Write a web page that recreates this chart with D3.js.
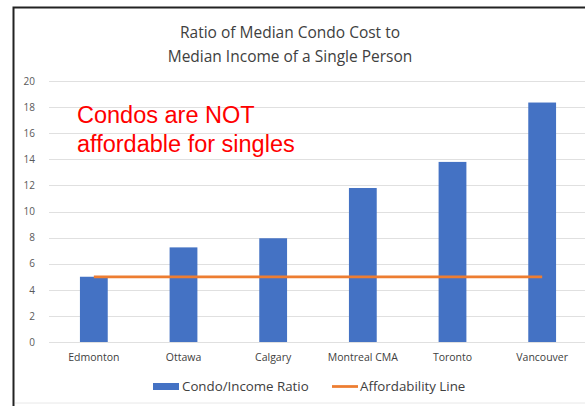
<!DOCTYPE html>
<html>
<head>
<meta charset="utf-8">
<script src="https://cdn.jsdelivr.net/npm/d3@7"></script>
<style>
  body { margin: 0; background: #fff; }
  text { font-family: "Open Sans", "Liberation Sans", sans-serif; }
</style>
</head>
<body>
<div id="chart"></div>
<script>
var svgWidth = 585;
var svgHeight = 406;

var leftMargin = 49;
var rightMargin = -2;
var topMargin = 81;
var bottomMargin = 64;

var chartWidth = svgWidth - leftMargin - rightMargin;
var chartHeight = svgHeight - topMargin - bottomMargin;

var cities = ['Edmonton', 'Ottawa', 'Calgary', 'Montreal CMA', 'Toronto', 'Vancouver'];
var ratios = [5.0, 7.25, 7.95, 11.8, 13.8, 18.35];
var affordability = [5, 5, 5, 5, 5, 5];
var yTicks = [0, 2, 4, 6, 8, 10, 12, 14, 16, 18, 20];
var titleLines = ['Ratio of Median Condo Cost to', 'Median Income of a Single Person'];
var noteLines = ['Condos are NOT', 'affordable for singles'];

var barColor = '#4472c4';
var lineColor = '#ed7d31';

var svg = d3.select('#chart')
    .append('svg')
    .attr('width', svgWidth)
    .attr('height', svgHeight);

// chart frame (screenshot is cropped: only top and left visible)
svg.append('path')
    .attr('d', 'M13.5,406 V7.5 H585')
    .attr('fill', 'none')
    .attr('stroke', '#222')
    .attr('stroke-width', 2);
svg.append('line')
    .attr('x1', 15).attr('x2', 585)
    .attr('y1', 403).attr('y2', 403)
    .attr('stroke', '#e8e8e8');

var chart = svg.append('g')
    .attr('transform', `translate(${leftMargin}, ${topMargin})`);

var xScale = d3.scaleBand()
    .domain(cities)
    .range([0, chartWidth])
    .paddingInner(0.69)
    .paddingOuter(0.345);

var yScale = d3.scaleLinear()
    .domain([0, 20])
    .range([chartHeight, 0]);

// gridlines
chart.append('g')
    .selectAll('line')
    .data(yTicks)
    .enter()
    .append('line')
    .attr('x1', 0)
    .attr('x2', chartWidth)
    .attr('y1', d => Math.round(yScale(d)) + 0.5)
    .attr('y2', d => Math.round(yScale(d)) + 0.5)
    .attr('stroke', '#e0e0e0')
    .attr('stroke-width', 1);

var yAxis = d3.axisLeft(yScale).tickValues(yTicks).tickSize(0).tickPadding(14);
var yG = chart.append('g').call(yAxis);
yG.select('.domain').remove();
yG.selectAll('text')
    .attr('fill', '#595959')
    .attr('font-size', 10);

var xAxis = d3.axisBottom(xScale).tickSize(0).tickPadding(12);
var xG = chart.append('g')
    .attr('transform', `translate(0, ${chartHeight})`)
    .call(xAxis);
xG.select('.domain').remove();
xG.selectAll('text')
    .attr('fill', '#404040')
    .attr('font-size', 10.5);

// bars
chart.selectAll('rect.bar')
    .data(ratios)
    .enter()
    .append('rect')
    .attr('class', 'bar')
    .attr('x', (d, i) => xScale(cities[i]))
    .attr('y', d => yScale(d))
    .attr('width', xScale.bandwidth())
    .attr('height', d => chartHeight - yScale(d))
    .attr('fill', barColor);

// affordability line
var line = d3.line()
    .x((d, i) => xScale(cities[i]) + xScale.bandwidth() / 2)
    .y(d => yScale(d));

chart.append('path')
    .datum(affordability)
    .attr('d', line)
    .attr('fill', 'none')
    .attr('stroke', lineColor)
    .attr('stroke-width', 2.75);

// title
svg.append('g')
    .selectAll('text')
    .data(titleLines)
    .enter()
    .append('text')
    .attr('x', 290)
    .attr('y', (d, i) => 38 + 24 * i)
    .attr('text-anchor', 'middle')
    .attr('font-size', 15.5)
    .attr('fill', '#404040')
    .text(d => d);

// annotation
svg.append('g')
    .selectAll('text')
    .data(noteLines)
    .enter()
    .append('text')
    .attr('x', 77)
    .attr('y', (d, i) => 123 + 28.5 * i)
    .attr('font-size', 23.5)
    .style('font-family', '"Liberation Sans", Arial, sans-serif')
    .attr('fill', '#ff0000')
    .text(d => d);

// legend
var legend = svg.append('g');
legend.append('rect')
    .attr('x', 153)
    .attr('y', 383)
    .attr('width', 26)
    .attr('height', 7)
    .attr('fill', barColor);
legend.append('text')
    .attr('x', 182)
    .attr('y', 391)
    .attr('font-size', 13.3)
    .attr('fill', '#404040')
    .text('Condo/Income Ratio');
legend.append('line')
    .attr('x1', 332)
    .attr('x2', 358)
    .attr('y1', 386.5)
    .attr('y2', 386.5)
    .attr('stroke', lineColor)
    .attr('stroke-width', 2.75);
legend.append('text')
    .attr('x', 360)
    .attr('y', 391)
    .attr('font-size', 13.3)
    .attr('fill', '#404040')
    .text('Affordability Line');
</script>
</body>
</html>
